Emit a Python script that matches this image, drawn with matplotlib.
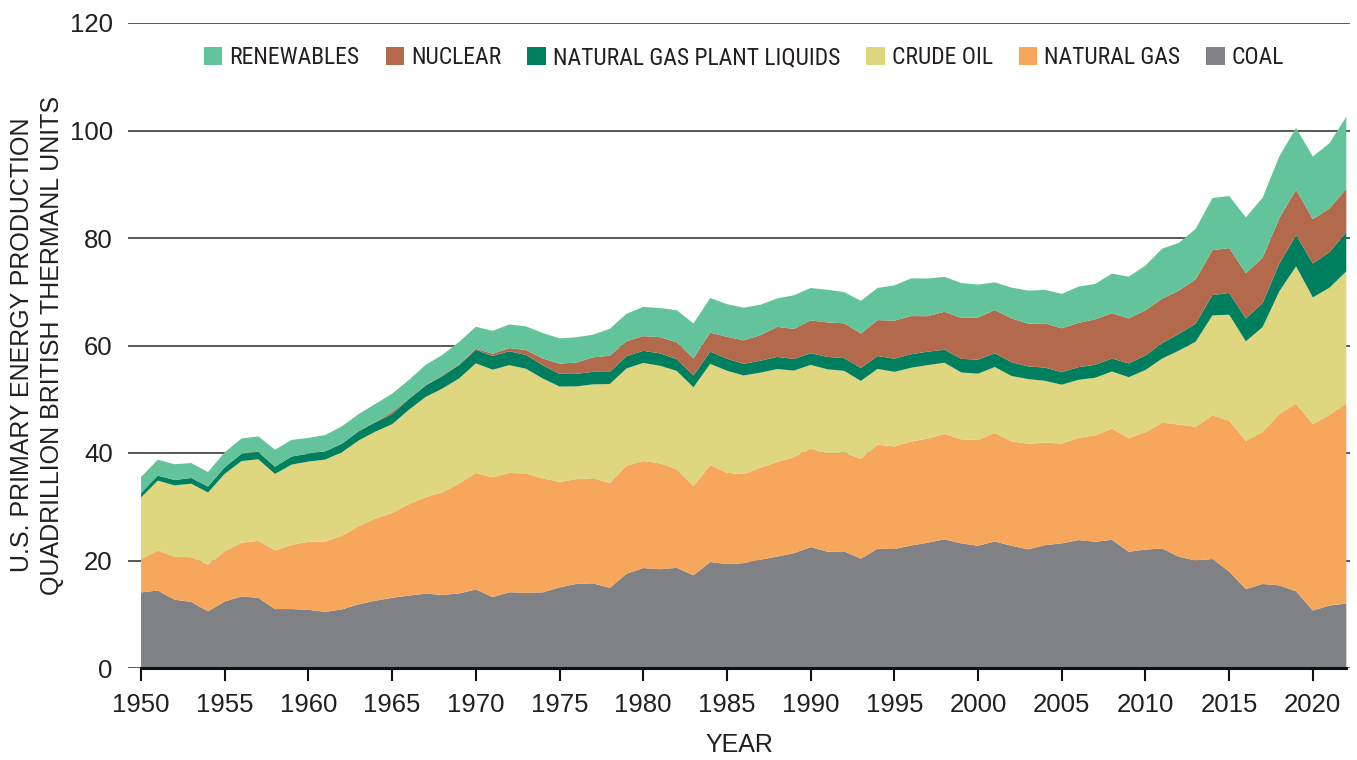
import matplotlib
matplotlib.use("Agg")
import matplotlib.pyplot as plt
from matplotlib import font_manager as fm
import numpy as np

# US primary energy production by source, quadrillion Btu
years = list(range(1950, 2023))

coal = [14.06, 14.41, 12.73, 12.28, 10.54, 12.37, 13.31, 13.06, 10.96, 10.97,
        10.82, 10.45, 10.90, 11.85, 12.52, 13.06, 13.47, 13.83, 13.61, 13.86,
        14.61, 13.19, 14.09, 13.99, 14.07, 14.99, 15.65, 15.75, 14.91, 17.54,
        18.60, 18.38, 18.64, 17.25, 19.72, 19.33, 19.51, 20.14, 20.74, 21.36,
        22.49, 21.64, 21.69, 20.34, 22.20, 22.13, 22.79, 23.31, 23.94, 23.19,
        22.74, 23.55, 22.73, 22.09, 22.85, 23.19, 23.79, 23.49, 23.85, 21.62,
        22.04, 22.22, 20.68, 20.00, 20.28, 17.95, 14.67, 15.63, 15.36, 14.26,
        10.70, 11.62, 12.00]

natural_gas = [6.23, 7.42, 7.96, 8.34, 8.68, 9.35, 10.00, 10.60, 10.94, 11.95,
               12.66, 13.10, 13.72, 14.51, 15.30, 15.78, 17.01, 17.94, 19.07, 20.45,
               21.67, 22.28, 22.21, 22.19, 21.21, 19.64, 19.48, 19.57, 19.49, 20.08,
               19.91, 19.70, 18.32, 16.59, 18.01, 16.98, 16.54, 17.14, 17.60, 17.85,
               18.33, 18.23, 18.38, 18.58, 19.35, 19.08, 19.34, 19.39, 19.61, 19.34,
               19.66, 20.17, 19.44, 19.63, 19.07, 18.56, 19.02, 19.79, 20.70, 21.14,
               21.81, 23.41, 24.61, 24.86, 26.72, 28.07, 27.58, 28.29, 31.88, 34.95,
               34.68, 35.47, 37.20]

crude_oil = [11.45, 13.04, 13.28, 13.67, 13.43, 14.41, 15.18, 15.18, 14.20, 14.93,
             14.93, 15.22, 15.52, 15.97, 16.16, 16.52, 17.56, 18.65, 19.31, 19.56,
             20.40, 20.03, 20.04, 19.49, 18.57, 17.73, 17.26, 17.45, 18.43, 18.10,
             18.25, 18.15, 18.31, 18.39, 18.85, 18.99, 18.38, 17.67, 17.28, 16.12,
             15.57, 15.70, 15.22, 14.49, 14.10, 13.89, 13.72, 13.66, 13.24, 12.45,
             12.36, 12.28, 12.16, 12.03, 11.50, 10.96, 10.80, 10.72, 10.61, 11.35,
             11.59, 11.94, 13.76, 15.85, 18.60, 19.71, 18.52, 19.51, 22.85, 25.51,
             23.57, 23.67, 24.60]

ngpl = [0.82, 0.93, 1.00, 1.06, 1.11, 1.24, 1.36, 1.37, 1.36, 1.50,
        1.46, 1.54, 1.59, 1.71, 1.75, 1.88, 2.00, 2.12, 2.32, 2.48,
        2.51, 2.54, 2.60, 2.57, 2.47, 2.37, 2.33, 2.33, 2.25, 2.29,
        2.25, 2.31, 2.19, 2.18, 2.27, 2.24, 2.15, 2.22, 2.26, 2.16,
        2.17, 2.31, 2.36, 2.41, 2.39, 2.44, 2.53, 2.50, 2.42, 2.53,
        2.61, 2.55, 2.56, 2.35, 2.47, 2.33, 2.36, 2.41, 2.42, 2.57,
        2.69, 2.88, 3.12, 3.35, 3.78, 4.06, 4.25, 4.47, 5.15, 5.83,
        6.31, 6.62, 7.30]

nuclear = [0.0, 0.0, 0.0, 0.0, 0.0, 0.0, 0.0, 0.0, 0.0, 0.0,
           0.01, 0.02, 0.03, 0.04, 0.04, 0.40, 0.06, 0.09, 0.14, 0.15,
           0.24, 0.41, 0.58, 0.91, 1.27, 1.90, 2.11, 2.70, 3.02, 2.78,
           2.74, 3.01, 3.13, 3.20, 3.55, 4.08, 4.38, 4.75, 5.59, 5.60,
           6.10, 6.42, 6.48, 6.41, 6.69, 7.08, 7.09, 6.60, 7.07, 7.61,
           7.86, 8.03, 8.15, 7.96, 8.22, 8.16, 8.22, 8.46, 8.43, 8.36,
           8.43, 8.27, 8.06, 8.24, 8.34, 8.34, 8.43, 8.42, 8.44, 8.45,
           8.25, 8.13, 8.06]

renewables = [2.98, 2.96, 2.94, 2.78, 2.70, 2.78, 2.85, 2.89, 3.15, 3.09,
              2.93, 3.01, 3.21, 3.17, 3.36, 3.40, 3.49, 3.76, 3.81, 4.16,
              4.06, 4.27, 4.40, 4.41, 4.74, 4.69, 4.70, 4.21, 5.00, 5.11,
              5.43, 5.41, 5.98, 6.50, 6.44, 6.08, 6.08, 5.66, 5.29, 6.25,
              6.04, 6.07, 5.82, 6.07, 5.99, 6.56, 7.01, 7.01, 6.49, 6.51,
              6.10, 5.16, 5.73, 6.15, 6.25, 6.40, 6.76, 6.59, 7.37, 7.76,
              8.30, 9.30, 8.88, 9.40, 9.71, 9.69, 10.39, 11.18, 11.53, 11.48,
              11.64, 12.14, 13.40]

labels = ["COAL", "NATURAL GAS", "CRUDE OIL", "NATURAL GAS PLANT LIQUIDS",
          "NUCLEAR", "RENEWABLES"]
colors = ["#808185", "#F7A75C", "#DFD680", "#007F5F", "#B3694C", "#63C49C"]

txt = "#231F20"
plt.rcParams["font.family"] = ["Liberation Sans", "DejaVu Sans"]

# the legend uses a narrow face; take whatever condensed sans is installed
narrow = None
for f in fm.fontManager.ttflist:
    if ("Narrow" in f.name or "Condensed" in f.name or
            f.stretch in ("condensed", "semi-condensed", 600, 700)) and \
            f.style == "normal" and f.weight in ("normal", "regular", 400):
        if "Mono" in f.name or "Serif" in f.name:
            continue
        narrow = f.fname
        if "Liberation" in f.name or "Arial" in f.name:
            break
if narrow:
    leg_prop = fm.FontProperties(fname=narrow, size=17)
else:
    leg_prop = fm.FontProperties(family="Liberation Sans", size=14.2)

fig = plt.figure(figsize=(13.57, 7.6), dpi=100)
ax = fig.add_axes([128 / 1357, 92 / 760, 1222 / 1357, 645 / 760])

polys = ax.stackplot(years, coal, natural_gas, crude_oil, ngpl, nuclear, renewables,
                     colors=colors, labels=labels, linewidth=0)

ax.set_xlim(1949.22, 2022.22)
ax.set_ylim(0, 120)
ax.set_xticks(range(1950, 2021, 5))
ax.set_yticks(range(0, 121, 20))

ax.set_axisbelow(True)
ax.yaxis.grid(True, color="#2b2b2b", linewidth=1.1)
for s in ["left", "right", "top"]:
    ax.spines[s].set_visible(False)
ax.spines["bottom"].set_bounds(1950, 2022)
ax.spines["bottom"].set_linewidth(2.2)
ax.spines["bottom"].set_color("#111111")

ax.tick_params(axis="x", length=9, width=1.5, color="#111111", pad=9,
               labelsize=18.5, labelcolor=txt)
ax.tick_params(axis="y", length=0, pad=11, labelsize=18.5, labelcolor=txt)

fig.text(37 / 1357, 1 - 345 / 760,
         "U.S. PRIMARY ENERGY PRODUCTION\nQUADRILLION BRITISH THERMANL UNITS",
         rotation=90, ha="center", va="center", fontsize=18, color=txt,
         linespacing=1.3)
fig.text(739 / 1357, 1 - 745 / 760, "YEAR", ha="center", va="center",
         fontsize=18, color=txt)

# legend: top layer first
handles = polys[::-1]
leg = fig.legend(handles, labels[::-1], loc="center", ncol=6,
                 bbox_to_anchor=(744 / 1357, 1 - 58 / 760), frameon=False,
                 prop=leg_prop,
                 handlelength=0.78, handleheight=0.78, handletextpad=0.3,
                 columnspacing=1.1, borderpad=0)
for t in leg.get_texts():
    t.set_color(txt)

fig.savefig("out.png", dpi=100)
